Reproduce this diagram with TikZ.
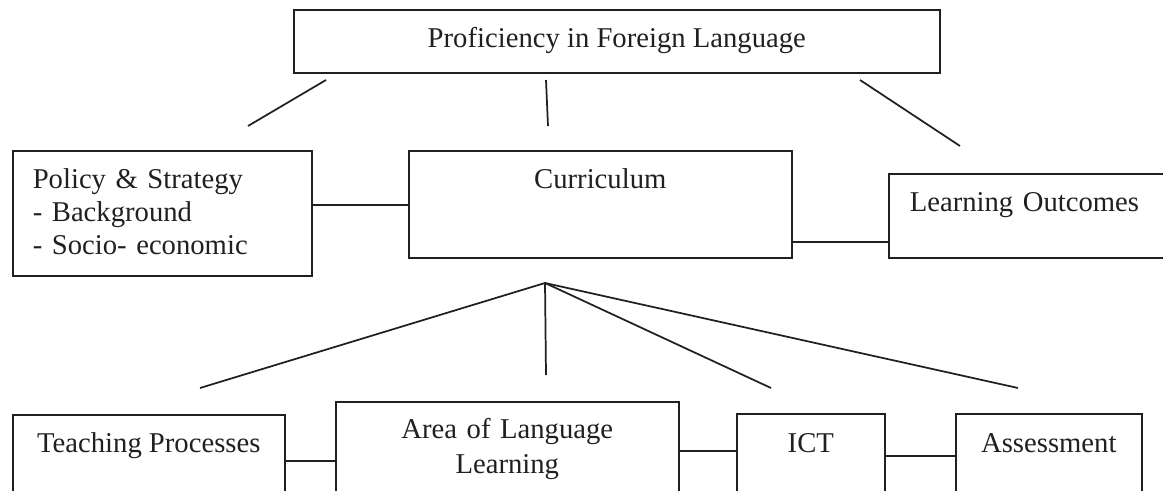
\documentclass[tikz,border=0pt]{standalone}
\usepackage{fontspec}
\setmainfont{Liberation Serif}
\usepackage{xcolor}
\usepackage{tikz}

\definecolor{ink}{RGB}{35,31,32}

\begin{document}
\begin{tikzpicture}[x=0.75pt, y=-0.75pt,
        box/.style={draw=ink, text=ink, rectangle, line width=1.2pt, inner xsep=0pt, inner ysep=0pt,
            anchor=north west, align=center, font=\fontsize{21.5}{24.75}\selectfont},
        leftbox/.style={box, align=left, inner xsep=15pt},
        link/.style={draw=ink, line width=1.3pt}]
        % Frame (the boxes at the bottom and on the right run past it)
        \path[use as bounding box, clip] (0,0) rectangle (1163,491);
        \fill[white] (0,0) rectangle (1163,491);

        % Top box
        \node[box, minimum width=484.5pt, text height=28.5pt, text depth=18.75pt] (prof) at (293,9) {Proficiency in Foreign Language};

        % Middle row
        \node[leftbox, text width=194.25pt, text height=28.5pt, text depth=65.25pt] (pol) at (12,150) {Policy \& Strategy\\- Background\\- Socio- economic};
        \node[box, minimum width=287.25pt, text height=28.5pt, text depth=51.75pt] (cur) at (408,150) {Curriculum};
        \node[leftbox, inner xsep=15.75pt, text width=195pt, text height=28.5pt, text depth=34.5pt] (out) at (888,173) {Learning Outcomes};

        % Bottom row
        \node[box, minimum width=204pt, text height=28.5pt, text depth=66pt] (teach) at (12,414) {Teaching Processes};
        \node[box, text width=257.25pt, text height=27.75pt, text depth=76.5pt] (area) at (335,401) {Area of Language\\[1.5pt]Learning};
        \node[box, minimum width=111pt, text height=29.25pt, text depth=66pt] (ict) at (736,413) {ICT};
        \node[box, minimum width=139.5pt, text height=29.25pt, text depth=66pt] (asm) at (955,413) {Assessment};

        % Loose ends of the lines below the top box
        \coordinate (prof-l) at (326,80);
        \coordinate (prof-m) at (546,80);
        \coordinate (prof-r) at (860,80);
        \coordinate (pol-up) at (248,126);
        \coordinate (cur-up) at (548,126);
        \coordinate (out-up) at (960,146);

        % Loose ends of the fan below the curriculum
        \coordinate (fan) at (545,283);
        \coordinate (teach-up) at (200,388);
        \coordinate (area-up) at (546,375);
        \coordinate (ict-up) at (771,388);
        \coordinate (asm-up) at (1018,388);

        % Lines from the top box
        \draw[link] (prof-l) -- (pol-up);
        \draw[link] (prof-m) -- (cur-up);
        \draw[link] (prof-r) -- (out-up);

        % Fan from the curriculum
        \draw[link] (fan) -- (teach-up);
        \draw[link] (fan) -- (area-up);
        \draw[link] (fan) -- (ict-up);
        \draw[link] (fan) -- (asm-up);

        % Links between neighbouring boxes
        \draw[link] (pol.east |- 0,205) -- (cur.west |- 0,205);
        \draw[link] (cur.east |- 0,242) -- (out.west |- 0,242);
        \draw[link] (teach.east |- 0,461) -- (area.west |- 0,461);
        \draw[link] (area.east |- 0,451) -- (ict.west |- 0,451);
        \draw[link] (ict.east |- 0,456) -- (asm.west |- 0,456);
    \end{tikzpicture}
\end{document}
